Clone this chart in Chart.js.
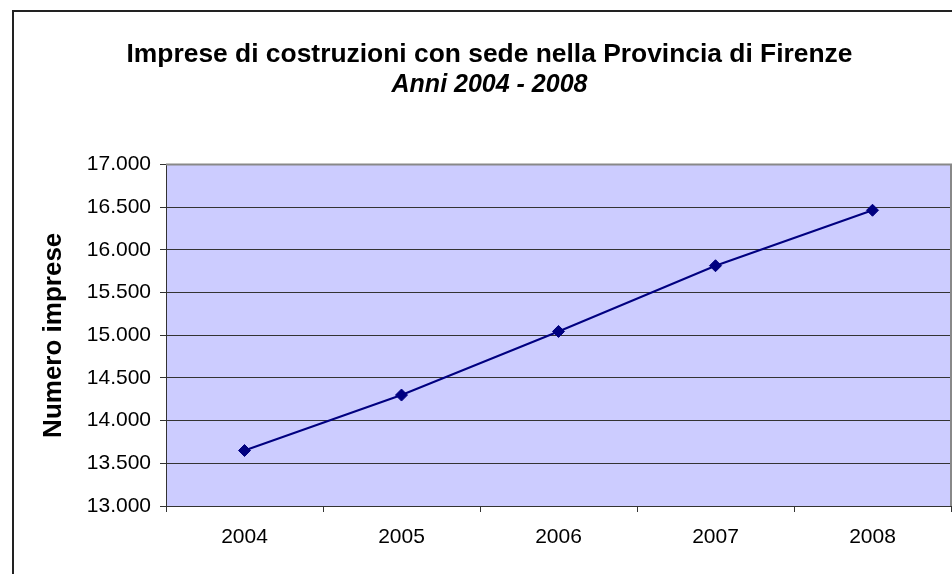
<!DOCTYPE html>
<html>
<head>
<meta charset="utf-8">
<script src="https://cdn.jsdelivr.net/npm/chart.js@4/dist/chart.umd.min.js"></script>
<style>
  html, body { margin: 0; padding: 0; background: #ffffff; }
  canvas { display: block; }
</style>
</head>
<body>
<canvas id="c" width="952" height="574"></canvas>
<script>
// ---- data ----
const categories = ['2004', '2005', '2006', '2007', '2008'];
const impreseValues = [13650, 14300, 15045, 15815, 16465];
const yMin = 13000;
const yMax = 17000;
const yStep = 500;
const titleLine1 = 'Imprese di costruzioni con sede nella Provincia di Firenze';
const titleLine2 = 'Anni 2004 - 2008';
const yAxisTitle = 'Numero imprese';

const FONT = "'Liberation Sans', Arial, Helvetica, sans-serif";

function fmtIt(v) {
  return String(Math.round(v)).replace(/\B(?=(\d{3})+(?!\d))/g, '.');
}

const decorPlugin = {
  id: 'decor',
  beforeDraw(chart) {
    const ctx = chart.ctx;
    const a = chart.chartArea;
    ctx.save();
    ctx.fillStyle = '#ffffff';
    ctx.fillRect(0, 0, chart.width, chart.height);
    // outer frame
    ctx.fillStyle = '#222222';
    ctx.fillRect(12, 10, 2, chart.height - 10);
    ctx.fillRect(12, 10, chart.width - 12, 2);
    // plot background
    ctx.fillStyle = '#CCCCFF';
    ctx.fillRect(a.left, a.top, a.right - a.left, a.bottom - a.top);
    ctx.restore();
  },
  afterDraw(chart) {
    const ctx = chart.ctx;
    const a = chart.chartArea;
    ctx.save();
    ctx.strokeStyle = '#888888';
    ctx.lineWidth = 2;
    ctx.beginPath();
    ctx.moveTo(a.left, a.top);
    ctx.lineTo(a.right, a.top);
    ctx.lineTo(a.right, a.bottom);
    ctx.stroke();
    ctx.restore();
  }
};

new Chart(document.getElementById('c'), {
  type: 'line',
  data: {
    labels: categories,
    datasets: [{
      label: yAxisTitle,
      data: impreseValues,
      borderColor: '#000080',
      backgroundColor: '#000080',
      borderWidth: 2,
      pointStyle: 'rectRot',
      pointRadius: 6,
      pointHoverRadius: 6,
      pointBorderWidth: 1,
      pointBackgroundColor: '#000080',
      pointBorderColor: '#000080',
      tension: 0,
      fill: false,
      clip: false
    }]
  },
  options: {
    responsive: false,
    animation: false,
    devicePixelRatio: 1,
    layout: { autoPadding: false, padding: { left: 28, right: 1, top: 0, bottom: 0 } },
    plugins: {
      legend: { display: false },
      tooltip: { enabled: false },
      title: {
        display: true,
        text: titleLine1,
        color: '#000000',
        font: { family: FONT, size: 26.4, weight: 'bold' },
        padding: { top: 38.5, bottom: 0 }
      },
      subtitle: {
        display: true,
        text: titleLine2,
        color: '#000000',
        font: { family: FONT, size: 25, weight: 'bold', style: 'italic' },
        padding: { top: 0, bottom: 64.4 }
      }
    },
    scales: {
      x: {
        type: 'category',
        offset: true,
        grid: {
          display: true,
          drawOnChartArea: false,
          drawTicks: true,
          tickLength: 6,
          offset: true,
          color: '#333333',
          lineWidth: 1
        },
        border: { display: true, color: '#333333', width: 1 },
        ticks: {
          color: '#000000',
          font: { family: FONT, size: 21 },
          padding: 12.4,
          maxRotation: 0
        },
        afterFit(scale) { scale.height = 68; }
      },
      y: {
        min: yMin,
        max: yMax,
        grid: {
          color: '#333333',
          lineWidth: 1,
          drawTicks: true,
          tickLength: 6
        },
        border: { display: true, color: '#333333', width: 1 },
        ticks: {
          stepSize: yStep,
          color: '#000000',
          font: { family: FONT, size: 21 },
          padding: 9,
          callback: (v) => fmtIt(v)
        },
        title: {
          display: true,
          text: yAxisTitle,
          color: '#000000',
          font: { family: FONT, size: 26, weight: 'bold' },
          padding: { top: 10.4, bottom: 0 }
        },
        afterFit(scale) { scale.width = 138; }
      }
    }
  },
  plugins: [decorPlugin]
});
</script>
</body>
</html>
